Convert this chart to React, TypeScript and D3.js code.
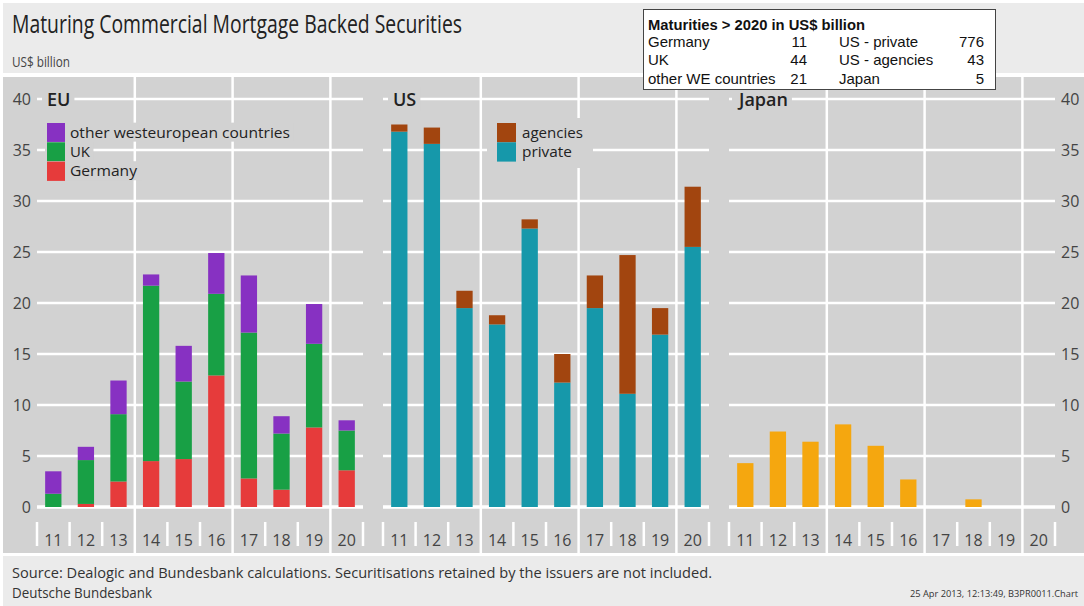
import React, { useLayoutEffect, useRef, useState } from 'react';
import * as d3 from 'd3';

// ---------- data ----------
const years = ['11', '12', '13', '14', '15', '16', '17', '18', '19', '20'];
const euGermany = [0, 0.3, 2.5, 4.5, 4.7, 12.9, 2.8, 1.7, 7.8, 3.6];
const euUK = [1.3, 4.3, 6.6, 17.2, 7.6, 8.0, 14.3, 5.5, 8.2, 3.9];
const euOther = [2.2, 1.3, 3.3, 1.1, 3.5, 4.0, 5.6, 1.7, 3.9, 1.0];
const usPrivate = [36.8, 35.6, 19.5, 17.9, 27.3, 12.2, 19.5, 11.1, 16.9, 25.5];
const usAgencies = [0.7, 1.6, 1.7, 0.9, 0.9, 2.8, 3.2, 13.6, 2.6, 5.9];
const japan = [4.3, 7.4, 6.4, 8.1, 6.0, 2.7, 0, 0.75, 0, 0];
const yTicks = [0, 5, 10, 15, 20, 25, 30, 35, 40];

const infoTitle = 'Maturities > 2020 in US$ billion';
const infoLeftLabels = ['Germany', 'UK', 'other WE countries'];
const infoLeftValues = [11, 44, 21];
const infoRightLabels = ['US - private', 'US - agencies', 'Japan'];
const infoRightValues = [776, 43, 5];

const euLegend = ['other westeuropean countries', 'UK', 'Germany'];
const usLegend = ['agencies', 'private'];

const COLORS = {
  other: '#8731c2',
  uk: '#18a045',
  germany: '#e63b3b',
  agencies: '#a2450f',
  priv: '#1698aa',
  japan: '#f5a70f',
};

const PLOT_BG = '#d2d2d2';
const HEAD_BG = '#ebebeb';
const FONT = '"Open Sans", "Noto Sans", sans-serif';
const ARIAL = '"Liberation Sans", Arial, sans-serif';

function BgText(props: any) {
  const { padL = 3, padR = 3, padT = 0, padB = 0, bg, children, ...rest } = props;
  const ref = useRef<SVGTextElement>(null);
  const [box, setBox] = useState<any>(null);
  useLayoutEffect(() => {
    if (ref.current) {
      const b = ref.current.getBBox();
      setBox({ x: b.x, y: b.y, width: b.width, height: b.height });
    }
  }, []);
  return (
    <g>
      {box && (
        <rect
          x={box.x - padL}
          y={box.y - padT}
          width={box.width + padL + padR}
          height={box.height + padT + padB}
          fill={bg}
        />
      )}
      <text ref={ref} {...rest}>
        {children}
      </text>
    </g>
  );
}

export default function App() {
  const W = 1084;
  const H = 606;
  const y = d3.scaleLinear().domain([0, 40]).range([507, 99]);
  const panelW = 326;
  const panels = [
    { key: 'EU', title: 'EU', x0: 37 },
    { key: 'US', title: 'US', x0: 383 },
    { key: 'JP', title: 'Japan', x0: 729 },
  ];
  const xScales = panels.map((p) =>
    d3.scaleBand<string>().domain(years).range([p.x0, p.x0 + panelW]).paddingInner(0.5).paddingOuter(0.25)
  );

  const euRows = years.map((yr, i) => ({ year: yr, germany: euGermany[i], uk: euUK[i], other: euOther[i] }));
  const usRows = years.map((yr, i) => ({ year: yr, priv: usPrivate[i], agencies: usAgencies[i] }));
  const jpRows = years.map((yr, i) => ({ year: yr, japan: japan[i] }));
  const euStack = d3.stack<any>().keys(['germany', 'uk', 'other'])(euRows);
  const usStack = d3.stack<any>().keys(['priv', 'agencies'])(usRows);
  const jpStack = d3.stack<any>().keys(['japan'])(jpRows);
  const stacks = [euStack, usStack, jpStack];

  const legendFont = 14;
  const euLegendWidths = [220, 20, 67];
  const usLegendWidths = [61, 50];

  return (
    <svg
      width={W}
      height={H}
      viewBox={`0 0 ${W} ${H}`}
      style={{ position: 'absolute', left: 0, top: 0, background: '#fff' }}
    >
      {/* backgrounds */}
      <rect x={3} y={3} width={W - 3} height={70} fill={HEAD_BG} />
      <rect x={3} y={77} width={W - 3} height={476} fill={PLOT_BG} />
      <rect x={3} y={556} width={W - 3} height={50} fill={HEAD_BG} />

      {/* title */}
      <text x={12} y={33} fontFamily={FONT} fontSize={25} fill="#222" textLength={450} lengthAdjust="spacingAndGlyphs">
        Maturing Commercial Mortgage Backed Securities
      </text>
      <text x={12} y={67} fontFamily={FONT} fontSize={15} fill="#444" textLength={58} lengthAdjust="spacingAndGlyphs">
        US$ billion
      </text>

      {/* gridlines per panel */}
      {panels.map((p, pi) => {
        const xs = xScales[pi];
        const step = xs.step();
        return (
          <g key={'grid' + p.key}>
            {yTicks.map((t) => (
              <line
                key={t}
                x1={p.x0}
                x2={p.x0 + panelW}
                y1={y(t)}
                y2={y(t)}
                stroke="#fff"
                strokeWidth={t === 0 ? 3.5 : 2.5}
              />
            ))}
            {d3.range(0, 11).map((k) => (
              <line
                key={'t' + k}
                x1={p.x0 + k * step}
                x2={p.x0 + k * step}
                y1={k % 3 === 0 && k > 0 && k < 10 ? 77 : 522}
                y2={k % 3 === 0 && k > 0 && k < 10 ? 553 : 546}
                stroke="#fff"
                strokeWidth={2.5}
              />
            ))}
          </g>
        );
      })}

      {/* bars */}
      {stacks.map((st, pi) => {
        const xs = xScales[pi];
        return (
          <g key={'bars' + pi}>
            {st.map((layer: any) => (
              <g key={layer.key} fill={(COLORS as any)[layer.key]}>
                {layer.map((d: any) => (
                  <rect
                    key={d.data.year}
                    x={xs(d.data.year)}
                    width={xs.bandwidth()}
                    y={y(d[1])}
                    height={Math.max(0, y(d[0]) - y(d[1]))}
                  />
                ))}
              </g>
            ))}
          </g>
        );
      })}

      {/* x tick labels */}
      {panels.map((p, pi) => {
        const xs = xScales[pi];
        return (
          <g key={'xl' + p.key} fontFamily={FONT} fontSize={16} fill="#444" textAnchor="middle">
            {years.map((yr) => (
              <text key={yr} x={(xs(yr) as number) + xs.bandwidth() / 2} y={546}>
                {yr}
              </text>
            ))}
          </g>
        );
      })}

      {/* y axis labels */}
      <g fontFamily={FONT} fontSize={16} fill="#444">
        {yTicks.map((t) => (
          <text key={'l' + t} x={31} y={y(t)} dy="0.36em" textAnchor="end">
            {t}
          </text>
        ))}
        {yTicks.map((t) => (
          <text key={'r' + t} x={1061} y={y(t)} dy="0.36em" textAnchor="start">
            {t}
          </text>
        ))}
      </g>

      {/* panel titles */}
      {panels.map((p) => (
        <BgText
          key={'pt' + p.key}
          x={p.x0 + 10}
          y={106}
          fontFamily={FONT}
          fontSize={18}
          fontWeight={600}
          fill="#222"
          bg={PLOT_BG}
          padL={5}
          padR={4}
        >
          {p.title}
        </BgText>
      ))}

      {/* EU legend */}
      {euLegend.map((lab, i) => {
        const color = [COLORS.other, COLORS.uk, COLORS.germany][i];
        const top = 123 + i * 19.3;
        return (
          <g key={'eul' + i}>
            <BgText
              x={70}
              y={top + 9.6}
              dy="0.36em"
              fontFamily={FONT}
              fontSize={legendFont}
              fontWeight={500}
              fill="#222"
              bg={PLOT_BG}
              padL={25}
              padR={3}
              padT={0}
              padB={0}
              textLength={euLegendWidths[i]}
              lengthAdjust="spacingAndGlyphs"
            >
              {lab}
            </BgText>
            <rect x={47} y={top} width={18} height={19.3} fill={color} />
          </g>
        );
      })}

      {/* US legend */}
      <rect x={487} y={118} width={106} height={50} fill={PLOT_BG} />
      {usLegend.map((lab, i) => {
        const color = [COLORS.agencies, COLORS.priv][i];
        const top = 123 + i * 19.3;
        return (
          <g key={'usl' + i}>
            <rect x={497} y={top} width={19} height={19.3} fill={color} />
            <text
              x={522}
              y={top + 9.6}
              dy="0.36em"
              fontFamily={FONT}
              fontSize={legendFont}
              fontWeight={500}
              fill="#222"
              textLength={usLegendWidths[i]}
              lengthAdjust="spacingAndGlyphs"
            >
              {lab}
            </text>
          </g>
        );
      })}

      {/* info box */}
      <g fontFamily={ARIAL} fill="#111">
        <rect x={643.5} y={9.5} width={352} height={80} fill="#fff" stroke="#444" strokeWidth={1} />
        <text x={648} y={30} fontSize={14.5} fontWeight="bold" textLength={217} lengthAdjust="spacingAndGlyphs">
          {infoTitle}
        </text>
        {infoLeftLabels.map((lab, i) => (
          <g key={'info' + i} fontSize={15}>
            <text x={648} y={46.5 + i * 18.7}>
              {lab}
            </text>
            <text x={807} y={46.5 + i * 18.7} textAnchor="end">
              {infoLeftValues[i]}
            </text>
            <text x={839} y={46.5 + i * 18.7}>
              {infoRightLabels[i]}
            </text>
            <text x={984} y={46.5 + i * 18.7} textAnchor="end">
              {infoRightValues[i]}
            </text>
          </g>
        ))}
      </g>

      {/* footer */}
      <text x={12} y={578} fontFamily={FONT} fontSize={15} fill="#333" textLength={700} lengthAdjust="spacingAndGlyphs">
        Source: Dealogic and Bundesbank calculations. Securitisations retained by the issuers are not included.
      </text>
      <text x={12} y={598} fontFamily={FONT} fontSize={15} fill="#333" textLength={140} lengthAdjust="spacingAndGlyphs">
        Deutsche Bundesbank
      </text>
      <text x={1078} y={597} fontFamily={FONT} fontSize={9.5} fill="#333" textAnchor="end" textLength={168} lengthAdjust="spacingAndGlyphs">
        25 Apr 2013, 12:13:49, B3PR0011.Chart
      </text>
    </svg>
  );
}
